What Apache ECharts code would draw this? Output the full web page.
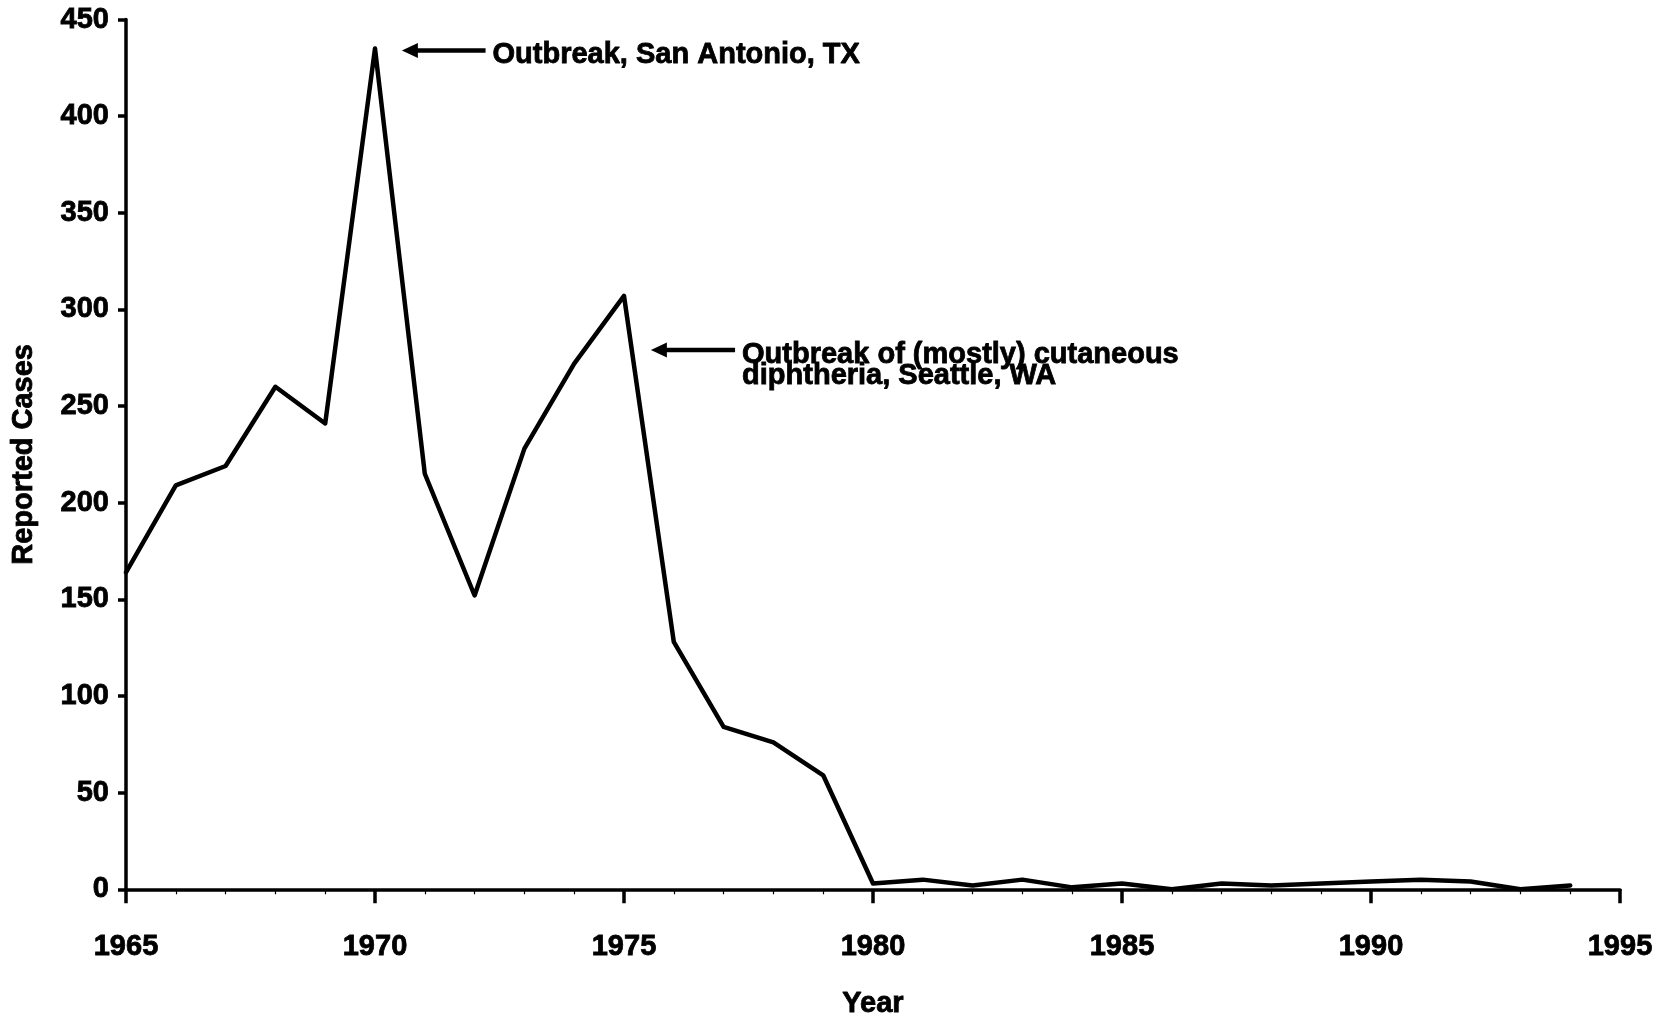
<!DOCTYPE html>
<html>
<head>
<meta charset="utf-8">
<script src="https://cdn.jsdelivr.net/npm/echarts@6/dist/echarts.min.js"></script>
<style>
html,body{margin:0;padding:0;background:#fff;}
#c{width:1661px;height:1016px;}
</style>
</head>
<body>
<div id="c"></div>
<script>
const years = [1965,1966,1967,1968,1969,1970,1971,1972,1973,1974,1975,1976,1977,1978,1979,1980,1981,1982,1983,1984,1985,1986,1987,1988,1989,1990,1991,1992,1993,1994];
const cases = [164,209,219,260,241,435,215,152,228,272,307,128,84,76,59,3,5,2,5,1,3,0,3,2,3,4,5,4,0,2];
const xTicks = [1965,1970,1975,1980,1985,1990,1995];
const yTicks = [0,50,100,150,200,250,300,350,400,450];
const annotations = [
  {text: 'Outbreak, San Antonio, TX', tip: [1970.54, 434], tail: [1972.22, 434]},
  {text: 'Outbreak of (mostly) cutaneous\ndiphtheria, Seattle, WA', tip: [1975.54, 279], tail: [1977.23, 279]}
];

const FONT = '"Liberation Sans", Arial, Helvetica, sans-serif';
const FS = 29;
const heavy = {textBorderColor: '#000', textBorderWidth: 0.8};
const chart = echarts.init(document.getElementById('c'), null, {renderer: 'canvas'});
const seriesData = years.map((y, i) => [y, cases[i]]);

chart.setOption({
  backgroundColor: '#fff',
  animation: false,
  grid: {left: 126, right: 41, top: 19.5, bottom: 126.7, containLabel: false, outerBoundsMode: 'none'},
  xAxis: {
    type: 'value',
    min: xTicks[0], max: xTicks[xTicks.length - 1], interval: 5,
    name: 'Year', nameLocation: 'middle', nameGap: 100,
    nameTextStyle: Object.assign({fontFamily: FONT, fontWeight: 'bold', fontSize: FS, color: '#000'}, heavy),
    axisLine: {show: true, onZero: false, lineStyle: {color: '#000', width: 3.5}},
    axisTick: {show: true, inside: false, length: 14, lineStyle: {color: '#000', width: 3.5}},
    minorTick: {show: true, splitNumber: 5, length: 5, lineStyle: {color: '#000', width: 1.2}},
    splitLine: {show: false},
    axisLabel: Object.assign({margin: 43, fontFamily: FONT, fontWeight: 'bold', fontSize: FS, color: '#000',
      formatter: v => String(v)}, heavy)
  },
  yAxis: {
    type: 'value',
    min: yTicks[0], max: yTicks[yTicks.length - 1], interval: 50,
    name: 'Reported Cases', nameLocation: 'middle', nameGap: 88, nameRotate: 90,
    nameTextStyle: Object.assign({fontFamily: FONT, fontWeight: 'bold', fontSize: FS, color: '#000'}, heavy),
    axisLine: {show: true, lineStyle: {color: '#000', width: 3.5}},
    axisTick: {show: true, inside: false, length: 8, lineStyle: {color: '#000', width: 3.5}},
    splitLine: {show: false},
    axisLabel: Object.assign({margin: 17, fontFamily: FONT, fontWeight: 'bold', fontSize: FS, color: '#000'}, heavy)
  },
  series: [{
    type: 'line',
    data: seriesData,
    symbol: 'none',
    z: 5,
    lineStyle: {color: '#000', width: 4.5, join: 'round', cap: 'round'}
  }]
});

function drawAnnotations() {
  const els = [];
  annotations.forEach((a) => {
    const tip = chart.convertToPixel({gridIndex: 0}, a.tip);
    const tail = chart.convertToPixel({gridIndex: 0}, a.tail);
    const headLen = 16, headHalf = 7.5;
    els.push({
      type: 'polygon', z: 10,
      shape: {points: [[tip[0], tip[1]], [tip[0] + headLen, tip[1] - headHalf], [tip[0] + headLen, tip[1] + headHalf]]},
      style: {fill: '#000'}
    });
    els.push({
      type: 'line', z: 10,
      shape: {x1: tip[0] + headLen - 1, y1: tip[1], x2: tail[0], y2: tail[1]},
      style: {stroke: '#000', lineWidth: 4.5}
    });
    els.push({
      type: 'text', z: 10,
      x: tail[0] + 7, y: tip[1] - 6,
      style: Object.assign({text: a.text, fontFamily: FONT, fontWeight: 'bold', fontSize: FS, lineHeight: 21.5,
        fill: '#000', align: 'left', verticalAlign: 'top'}, {stroke: '#000', lineWidth: 0.8})
    });
  });
  chart.setOption({graphic: els});
}
drawAnnotations();
</script>
</body>
</html>
